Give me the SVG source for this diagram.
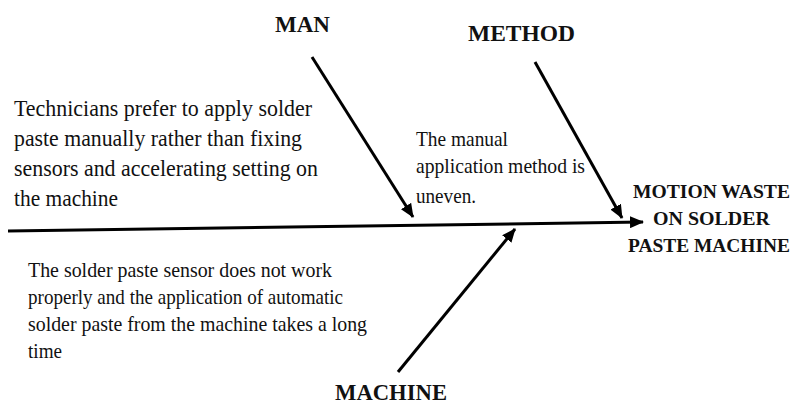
<svg xmlns="http://www.w3.org/2000/svg" width="797" height="404" viewBox="0 0 797 404">
<style>
text{font-family:"Liberation Serif","Times New Roman",serif;fill:#111}
.n{font-size:23.5px}
.s{font-size:21.5px}
.b{font-size:23px;font-weight:bold}
.bs{font-size:19.5px;font-weight:bold}
.c{stroke:#000;stroke-width:3;fill:none}
</style>
<defs>
<marker id="ah" markerUnits="userSpaceOnUse" markerWidth="14" markerHeight="12" refX="13" refY="6" orient="auto">
<path d="M0,0 L14,6 L0,12 Z" fill="#000"/>
</marker>
</defs>
<rect width="797" height="404" fill="#fff"/>
<g id="connectors">
<line class="c" x1="8" y1="231" x2="643" y2="222" marker-end="url(#ah)"/>
<line class="c" x1="312" y1="57" x2="413" y2="217" marker-end="url(#ah)"/>
<line class="c" x1="535" y1="62" x2="622" y2="218" marker-end="url(#ah)"/>
<line class="c" x1="398" y1="372" x2="515" y2="229" marker-end="url(#ah)"/>
</g>
<g id="effect">
<text class="bs" x="633" y="198" textLength="157" lengthAdjust="spacingAndGlyphs">MOTION WASTE</text>
<text class="bs" x="653" y="225" textLength="117" lengthAdjust="spacingAndGlyphs">ON SOLDER</text>
<text class="bs" x="628" y="252" textLength="162" lengthAdjust="spacingAndGlyphs">PASTE MACHINE</text>
</g>
<g id="man">
<text class="b" x="275" y="32" textLength="55" lengthAdjust="spacingAndGlyphs">MAN</text>
</g>
<g id="method">
<text class="b" x="468" y="41" textLength="107" lengthAdjust="spacingAndGlyphs">METHOD</text>
</g>
<g id="machine">
<text class="b" x="335" y="400" textLength="112" lengthAdjust="spacingAndGlyphs">MACHINE</text>
</g>
<g id="man-cause">
<text class="n" x="14" y="116" textLength="298" lengthAdjust="spacingAndGlyphs">Technicians prefer to apply solder</text>
<text class="n" x="14" y="146" textLength="288" lengthAdjust="spacingAndGlyphs">paste manually rather than fixing</text>
<text class="n" x="14" y="176" textLength="304" lengthAdjust="spacingAndGlyphs">sensors and accelerating setting on</text>
<text class="n" x="14" y="206" textLength="104" lengthAdjust="spacingAndGlyphs">the machine</text>
</g>
<g id="method-cause">
<text class="s" x="416" y="146" textLength="92" lengthAdjust="spacingAndGlyphs">The manual</text>
<text class="s" x="416" y="173" textLength="169" lengthAdjust="spacingAndGlyphs">application method is</text>
<text class="s" x="416" y="203" textLength="60" lengthAdjust="spacingAndGlyphs">uneven.</text>
</g>
<g id="machine-cause">
<text class="s" x="28" y="277" textLength="304" lengthAdjust="spacingAndGlyphs">The solder paste sensor does not work</text>
<text class="s" x="28" y="304" textLength="315" lengthAdjust="spacingAndGlyphs">properly and the application of automatic</text>
<text class="s" x="28" y="331" textLength="339" lengthAdjust="spacingAndGlyphs">solder paste from the machine takes a long</text>
<text class="s" x="28" y="358" textLength="34" lengthAdjust="spacingAndGlyphs">time</text>
</g>
</svg>
